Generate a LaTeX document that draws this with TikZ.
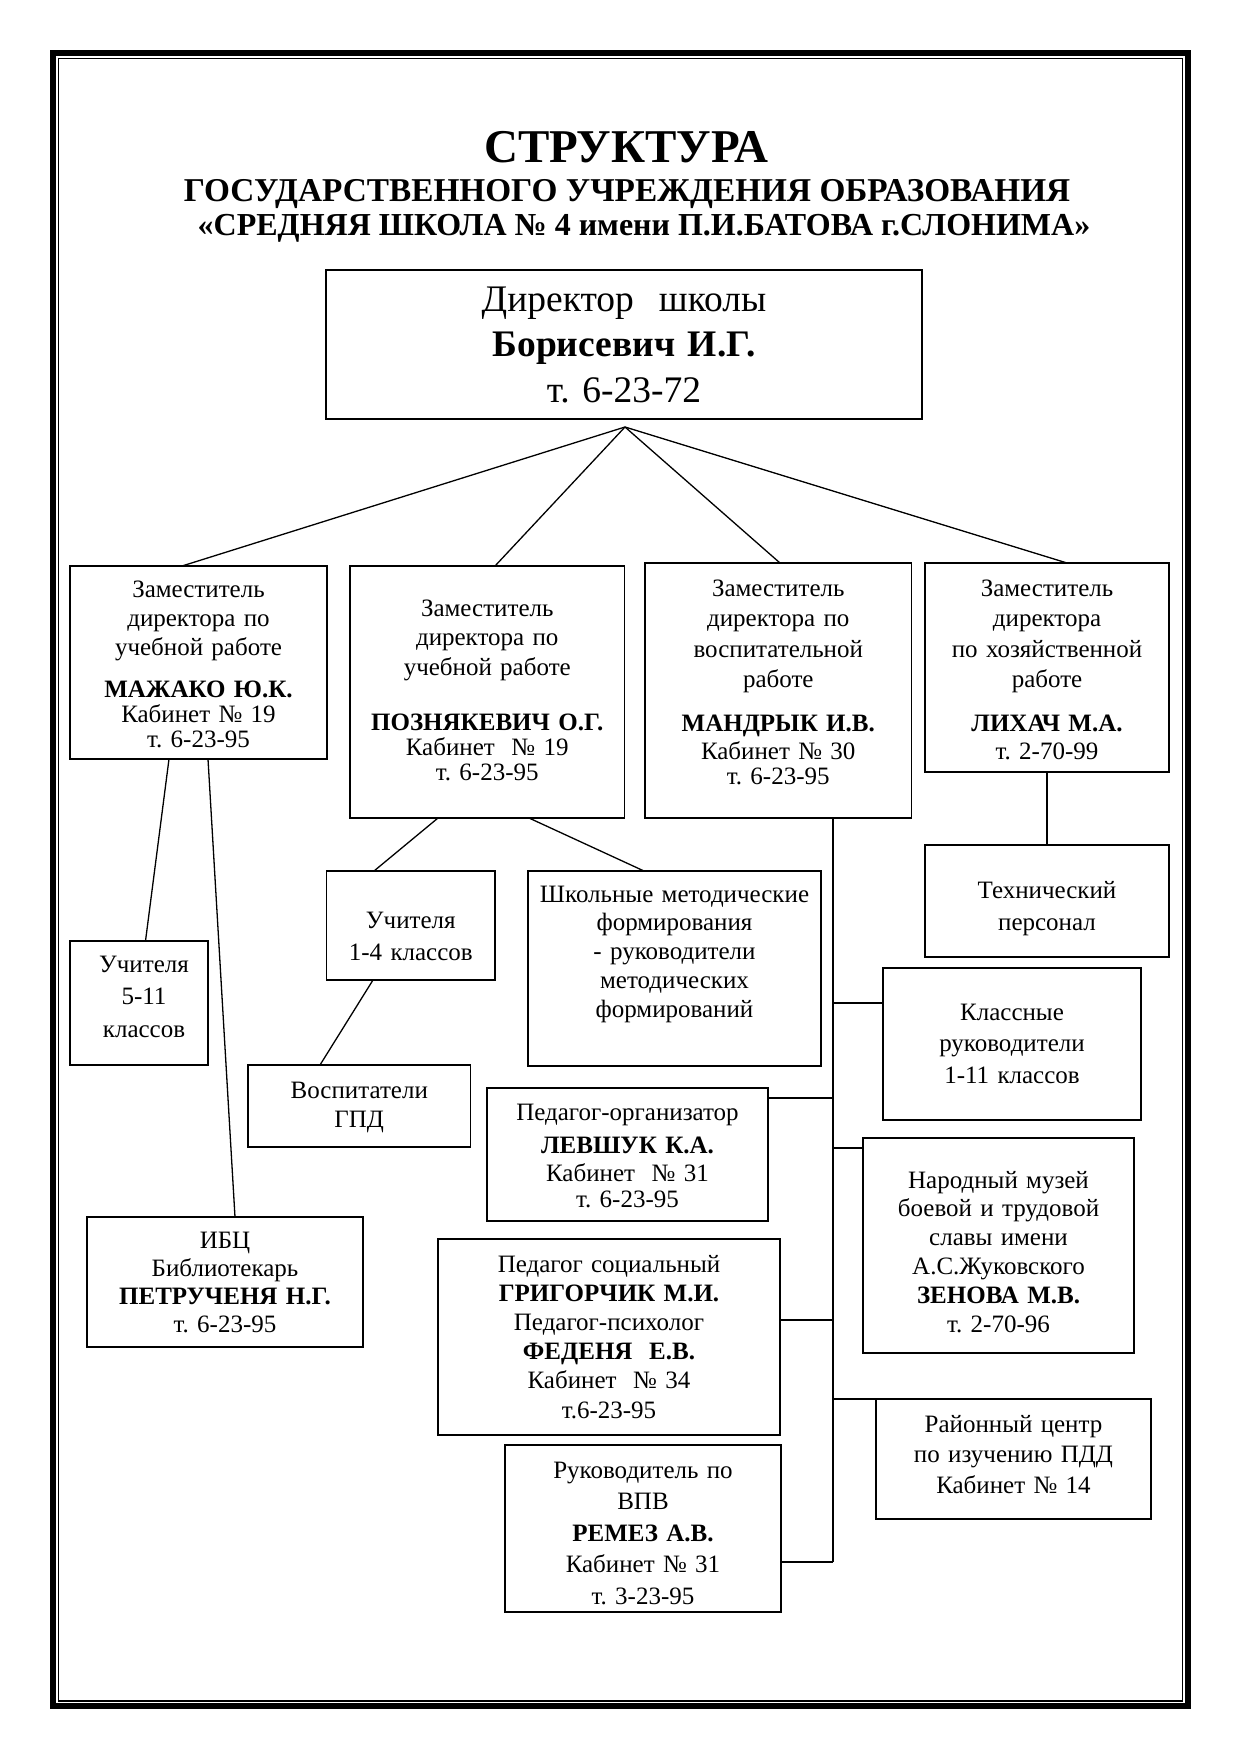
\documentclass[tikz,border=0pt]{standalone}
\usepackage{fontspec}
\setmainfont{Liberation Serif}
\frenchspacing
\begin{document}
\begin{tikzpicture}[x=1pt,y=-1pt,
  box/.style={draw, line width=1.4pt, rectangle, inner sep=0pt, outer sep=0pt},
  conn/.style={line width=1.3pt},
  ltxt/.style={inner sep=0pt, outer sep=0pt, anchor=base, align=center, text width=#1},
  lh/.style={font=\fontsize{25}{#1}\selectfont},
  ttl/.style={inner sep=0pt, outer sep=0pt, anchor=base}]
\useasboundingbox (0,0) rectangle (1241,1755);
% page frame
\draw[line width=6pt] (53,53) rectangle (1188,1706);
\draw[line width=1.3pt] (58.5,58.5) rectangle (1182.5,1701);
% title
\node[ttl, font=\fontsize{47}{50}\selectfont\bfseries] (t1) at (626,163) {СТРУКТУРА};
\node[ttl, font=\fontsize{33.3}{36}\selectfont\bfseries] (t2) at (627,201) {ГОСУДАРСТВЕННОГО УЧРЕЖДЕНИЯ ОБРАЗОВАНИЯ};
\node[ttl, font=\fontsize{32}{36}\selectfont\bfseries] (t3) at (644,235) {«СРЕДНЯЯ ШКОЛА № 4 имени П.И.БАТОВА г.СЛОНИМА»};
% boxes
\node[box, minimum width=596, minimum height=149] (dir) at (624,344.5) {};
\node[box, minimum width=257, minimum height=193] (A) at (198.5,662.5) {};
\node[box, minimum width=274.5, minimum height=252] (B) at (487.25,692) {};
\node[box, minimum width=266.5, minimum height=255] (C) at (778.25,690.5) {};
\node[box, minimum width=244, minimum height=209] (D) at (1047,667.5) {};
\node[box, minimum width=138, minimum height=124] (U511) at (139,1003) {};
\node[box, minimum width=168.4, minimum height=109] (U14) at (410.8,925.5) {};
\node[box, minimum width=293, minimum height=195] (SHMF) at (674.5,968.5) {};
\node[box, minimum width=222.5, minimum height=82] (GPD) at (359.25,1106) {};
\node[box, minimum width=276, minimum height=130] (IBC) at (225,1282) {};
\node[box, minimum width=244, minimum height=112] (TP) at (1047,901) {};
\node[box, minimum width=258, minimum height=152] (KR) at (1012,1044) {};
\node[box, minimum width=281, minimum height=133] (PO) at (627.5,1154.5) {};
\node[box, minimum width=271, minimum height=215] (MUZ) at (998.5,1245.5) {};
\node[box, minimum width=342, minimum height=196] (PS) at (609,1337) {};
\node[box, minimum width=275, minimum height=120] (RC) at (1013.5,1459) {};
\node[box, minimum width=276, minimum height=167] (VPV) at (643,1528.5) {};
% texts
\node[ltxt=596, font=\fontsize{37.5}{45.5}\selectfont] (dirT) at (624,311) {Директор~ школы\\\textbf{Борисевич И.Г.}\\т. 6-23-72};
\node[ltxt=257, lh=29] (AT) at (198.5,597) {Заместитель\\директора по\\учебной работе\\[13pt]\textbf{МАЖАКО Ю.К.}\\[-4pt]Кабинет № 19\\[-4pt]т. 6-23-95};
\node[ltxt=274, lh=29.5] (BT) at (487.25,616) {Заместитель\\директора по\\учебной работе\\[26pt]\textbf{ПОЗНЯКЕВИЧ О.Г.}\\[-4.5pt]Кабинет~ № 19\\[-4.5pt]т. 6-23-95};
\node[ltxt=266, lh=30.5] (CT) at (778.25,596) {Заместитель\\директора по\\воспитательной\\работе\\[13.5pt]\textbf{МАНДРЫК И.В.}\\[-2.5pt]Кабинет № 30\\[-5.5pt]т. 6-23-95};
\node[ltxt=244, lh=30.5] (DT) at (1047,596) {Заместитель\\директора\\по хозяйственной\\работе\\[13.5pt]\textbf{ЛИХАЧ М.А.}\\[-2.5pt]т. 2-70-99};
\node[ltxt=138, lh=32.5] (U511T) at (144,972) {Учителя\\5-11\\классов};
\node[ltxt=168, lh=32] (U14T) at (410.8,928) {Учителя\\1-4 классов};
\node[ltxt=293, lh=28.75] (SHMFT) at (674.5,902) {Школьные методические\\формирования\\- руководители\\методических\\формирований};
\node[ltxt=222, lh=29] (GPDT) at (359.25,1098) {Воспитатели\\ГПД};
\node[ltxt=276, lh=28] (IBCT) at (225,1248) {ИБЦ\\Библиотекарь\\\textbf{ПЕТРУЧЕНЯ Н.Г.}\\т. 6-23-95};
\node[ltxt=244, lh=32] (TPT) at (1047,898) {Технический\\персонал};
\node[ltxt=258, lh=31.5] (KRT) at (1012,1020) {Классные\\руководители\\1-11 классов};
\node[ltxt=281, lh=29] (POT) at (627.5,1120) {Педагог-организатор\\[4pt]\textbf{ЛЕВШУК К.А.}\\[-1pt]Кабинет~ № 31\\[-3pt]т. 6-23-95};
\node[ltxt=271, lh=28.8] (MUZT) at (998.5,1188) {Народный музей\\боевой и трудовой\\славы имени\\А.С.Жуковского\\\textbf{ЗЕНОВА М.В.}\\т. 2-70-96};
\node[ltxt=342, lh=29.2] (PST) at (609,1272) {Педагог социальный\\\textbf{ГРИГОРЧИК М.И.}\\Педагог-психолог\\\textbf{ФЕДЕНЯ~ Е.В.}\\Кабинет~ № 34\\т.6-23-95};
\node[ltxt=275, lh=30.5] (RCT) at (1013.5,1432) {Районный центр\\по изучению ПДД\\Кабинет № 14};
\node[ltxt=276, lh=31.5] (VPVT) at (643,1478) {Руководитель по\\ВПВ\\\textbf{РЕМЕЗ А.В.}\\Кабинет № 31\\т. 3-23-95};
% connectors from director
\coordinate (apex) at (625,427);
\draw[conn] (apex) -- ([xshift=-16.5pt]A.north);
\draw[conn] (apex) -- ([xshift=7.75pt]B.north);
\draw[conn] (apex) -- ([xshift=1.75pt]C.north);
\draw[conn] (apex) -- ([xshift=20pt]D.north);
% other connectors
\draw[conn] ([xshift=-29.5pt]A.south) -- ([xshift=6.5pt]U511.north);
\draw[conn] ([xshift=9.5pt]A.south) -- ([xshift=10pt]IBC.north);
\draw[conn] ([xshift=-49.25pt]B.south) -- ([xshift=-36.8pt]U14.north);
\draw[conn] ([xshift=41.75pt]B.south) -- ([xshift=-30.5pt]SHMF.north);
\draw[conn] ([xshift=-37.8pt]U14.south) -- ([xshift=-39.25pt]GPD.north);
\draw[conn] (D.south) -- (TP.north);
% trunk
\coordinate (tend) at (833,1562);
\coordinate (b1) at (833,1003);
\coordinate (b2) at (833,1098);
\coordinate (b3) at (833,1148);
\coordinate (b4) at (833,1320);
\coordinate (b5) at (833,1399);
\draw[conn] ([xshift=54.75pt]C.south) -- (tend);
\draw[conn] (b1) -- (KR.west |- b1);
\draw[conn] (b2) -- (PO.east |- b2);
\draw[conn] (b3) -- (MUZ.west |- b3);
\draw[conn] (b4) -- (PS.east |- b4);
\draw[conn] (b5) -- (RC.west |- b5);
\draw[conn] (tend) -- (VPV.east |- tend);
\end{tikzpicture}
\end{document}
